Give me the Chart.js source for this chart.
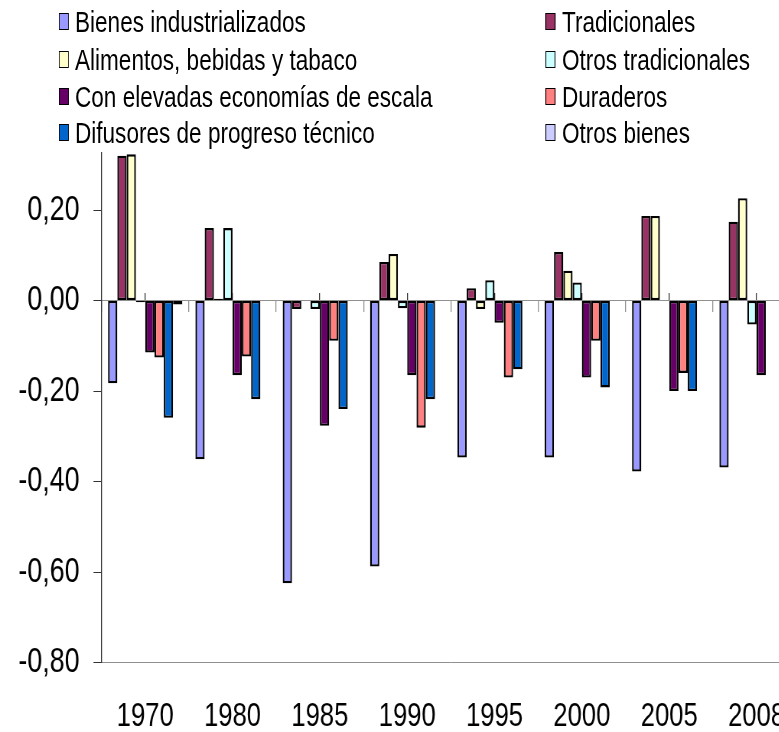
<!DOCTYPE html>
<html>
<head>
<meta charset="utf-8">
<script src="https://cdn.jsdelivr.net/npm/chart.js@4"></script>
<style>
  html, body { margin: 0; padding: 0; background: #fff; overflow: hidden; width: 779px; height: 732px; }
  #wrap { position: absolute; left: 0; top: 0; width: 1046px; height: 732px; transform: scaleX(0.765); transform-origin: 0 0; }
  #c { position: absolute; left: 0; top: 0; width: 1046px; height: 732px; }
  .lg { position: absolute; font-family: 'Liberation Sans', Arial, sans-serif; font-size: 29.5px; color: #000; white-space: nowrap; line-height: 1; }
  .lg .bx { position: absolute; width: 13px; height: 17px; border: 1px solid #000; border-left-width: 1.4px; border-right-width: 1.4px; box-sizing: border-box; }
  .lg .tx { position: absolute; }
</style>
</head>
<body>
<div id="wrap">
  <canvas id="c" width="1046" height="732"></canvas>
  <div id="legend"></div>
</div>
<script>
const categories = ['1970', '1980', '1985', '1990', '1995', '2000', '2005', '2008'];
const seriesNames = ['Bienes industrializados', 'Tradicionales', 'Alimentos, bebidas y tabaco', 'Otros tradicionales',
  'Con elevadas economías de escala', 'Duraderos', 'Difusores de progreso técnico', 'Otros bienes'];
const seriesColors = ['#9999FF', '#993366', '#FFFFCC', '#CCFFFF', '#660066', '#FF8080', '#0066CC', '#CCCCFF'];

const bienesIndustrializados = [-0.183, -0.351, -0.625, -0.588, -0.347, -0.347, -0.378, -0.369];
const tradicionales = [0.320, 0.160, -0.019, 0.085, 0.027, 0.107, 0.187, 0.174];
const alimentos = [0.323, 0.004, 0, 0.103, -0.019, 0.066, 0.187, 0.226];
const otrosTradicionales = [-0.004, 0.160, -0.019, -0.017, 0.045, 0.040, 0, -0.053];
const conElevadas = [-0.115, -0.165, -0.277, -0.165, -0.049, -0.170, -0.200, -0.165];
const duraderos = [-0.126, -0.124, -0.089, -0.281, -0.170, -0.089, -0.160, null];
const difusores = [-0.259, -0.218, -0.240, -0.218, -0.152, -0.192, -0.200, null];
const otrosBienes = [-0.009, 0, 0, 0, 0, 0, 0, null];

const yTickValues = [0.2, 0, -0.2, -0.4, -0.6, -0.8];
const yMin = -0.8, yMax = 0.326;

const seriesValues = [bienesIndustrializados, tradicionales, alimentos, otrosTradicionales,
  conElevadas, duraderos, difusores, otrosBienes];

const FONT = "'Liberation Sans', Arial, sans-serif";

const datasets = seriesValues.map((vals, i) => ({
  label: seriesNames[i],
  data: vals,
  backgroundColor: seriesColors[i],
  borderColor: '#000',
  borderWidth: 2.3,
  borderSkipped: false,
  categoryPercentage: 0.851,
  barPercentage: 1.0
}));

new Chart(document.getElementById('c'), {
  type: 'bar',
  data: { labels: categories, datasets },
  options: {
    responsive: false,
    animation: false,
    devicePixelRatio: 1,
    layout: { padding: { top: 153, left: 0, right: 0, bottom: 0 } },
    plugins: { legend: { display: false }, tooltip: { enabled: false } },
    scales: {
      x: {
        position: 'bottom',
        offset: true,
        grid: { display: false, drawTicks: false },
        border: { display: true, color: '#909090', width: 1 },
        ticks: { color: '#000', font: { family: FONT, size: 33.5, lineHeight: '109px' }, padding: 0, maxRotation: 0, autoSkip: false },
        afterFit: (s) => { s.height = 69.5; }
      },
      xZero: {
        type: 'category',
        labels: categories,
        position: { y: 0 },
        offset: true,
        grid: { display: true, drawOnChartArea: false, tickLength: 11, color: '#909090', lineWidth: 1.3, offset: true },
        border: { display: true, color: '#909090', width: 1 },
        ticks: { display: false }
      },
      xMid: {
        type: 'category',
        labels: categories,
        position: { y: 0 },
        offset: true,
        grid: { display: true, drawOnChartArea: false, tickLength: -8, color: '#333', lineWidth: 1.3, offset: false },
        border: { display: false },
        ticks: { display: false }
      },
      y: {
        min: yMin,
        max: yMax,
        grid: { display: true, drawOnChartArea: false, tickLength: 10.5, color: '#333' },
        border: { display: true, color: '#333', width: 1.3 },
        ticks: {
          color: '#000',
          padding: 18.3,
          font: { family: FONT, size: 35 },
          callback: (v) => v.toFixed(2).replace('.', ',')
        },
        afterBuildTicks: (s) => { s.ticks = yTickValues.map(v => ({ value: v })); },
        afterFit: (s) => { s.width = 132.7; }
      }
    }
  }
});

// HTML legend (two columns, row-major order of series); coordinates in the unscaled (logical) space
const legend = document.getElementById('legend');
const colBoxX = [77, 712.5];
const colTextX = [98, 734.6];
const rowY = [22, 60, 97, 133];
seriesNames.forEach((name, i) => {
  const col = i % 2, row = Math.floor(i / 2);
  const item = document.createElement('div');
  item.className = 'lg';
  item.style.left = colBoxX[col] + 'px';
  item.style.top = (rowY[row] - 15) + 'px';
  const bx = document.createElement('div');
  bx.className = 'bx';
  bx.style.left = '0px';
  bx.style.top = '6px';
  bx.style.background = seriesColors[i];
  const tx = document.createElement('div');
  tx.className = 'tx';
  tx.style.left = (colTextX[col] - colBoxX[col]) + 'px';
  tx.style.top = '0px';
  tx.textContent = name;
  item.appendChild(bx);
  item.appendChild(tx);
  legend.appendChild(item);
});
</script>
</body>
</html>
